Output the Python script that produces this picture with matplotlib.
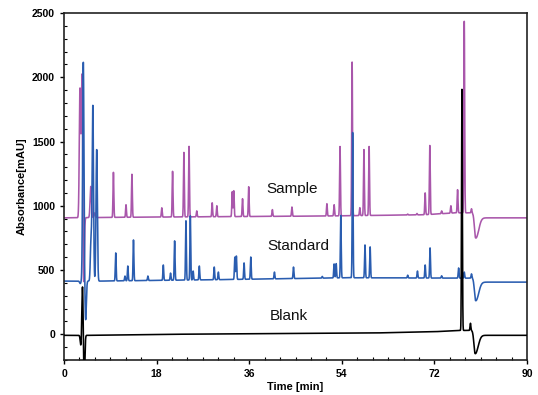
import numpy as np
import matplotlib
matplotlib.use('Agg')
import matplotlib.pyplot as plt
from matplotlib.ticker import MultipleLocator

# ---------------- data ----------------
# Sample trace: peak retention times [min] and apex absorbance [mAU]
sample_times = [3.1, 3.5, 3.8, 5.2, 6.0, 9.6, 12.05, 13.2, 19.0, 21.1, 23.3, 24.3,
                25.8, 28.8, 29.7, 32.7, 33.0, 34.7, 35.9, 40.5, 44.3, 51.1, 52.5,
                53.65, 56.0, 57.5, 58.3, 59.3, 66.8, 68.6, 70.2, 71.1, 73.4, 75.2,
                76.5, 77.8, 79.2]
sample_apex = [1906, 2050, 350, 1150, 945, 1260, 1008, 1245, 984, 1268, 1415, 1462,
               960, 1023, 1000, 1110, 1117, 1055, 1148, 970, 990, 1016, 1008,
               1461, 2118, 985, 1437, 1461, 935, 940, 1100, 1469, 960, 1000,
               1125, 2435, 977]
sample_base_t = [0, 10, 30, 50, 70, 76, 79.5, 80.6, 90]
sample_base_v = [906, 910, 915, 920, 930, 945, 945, 906, 906]
sample_dip = (80.0, 750)

# Standard trace
standard_times = [3.15, 3.75, 4.2, 5.25, 5.6, 6.35, 10.05, 11.85, 12.4, 13.5, 16.3,
                  19.3, 20.7, 21.5, 23.7, 24.55, 25.1, 26.3, 29.2, 30.0, 33.2, 33.5,
                  35.0, 36.3, 40.9, 44.6, 50.2, 52.5, 52.9, 53.8, 56.1, 58.5, 59.5,
                  66.8, 68.7, 70.2, 71.15, 73.4, 76.7, 77.8, 79.2]
standard_apex = [395, 2117, 110, 730, 1773, 1437, 633, 453, 531, 734, 453,
                 539, 476, 727, 883, 922, 492, 531, 523, 484, 600, 609,
                 555, 601, 484, 523, 450, 547, 550, 925, 1570, 695, 680,
                 460, 492, 539, 672, 455, 516, 484, 470]
standard_base_t = [0, 7, 30, 55, 76, 79.5, 80.6, 90]
standard_base_v = [414, 414, 425, 440, 437, 437, 406, 406]
standard_dip = (80.0, 262)

# Blank trace
blank_times = [3.3, 3.6, 3.9, 77.35, 79.0]
blank_apex = [-100, 400, -400, 1906, 86]
blank_base_t = [0, 5, 20, 40, 60, 72, 76.5, 79.3, 80.6, 90]
blank_base_v = [-8, -8, 0, 5, 10, 20, 30, 30, -8, -8]
blank_dip = (79.9, -150)

labels = ['Sample', 'Standard', 'Blank']
label_pos_t = [44.3, 45.5, 43.7]
label_pos_v = [1133, 688, 140]

x_ticks = [0, 18, 36, 54, 72, 90]
y_ticks = [0, 500, 1000, 1500, 2000, 2500]

# ---------------- build traces ----------------
t = np.linspace(0, 90, 18001)


def trace(times, apex, base_t, base_v, dip):
    base = np.interp(t, base_t, base_v)
    y = base.copy()
    for t0, a in zip(times, apex):
        h = a - np.interp(t0, base_t, base_v)
        s = 0.13 if t0 < 7 else 0.08
        y += h * np.exp(-0.5 * ((t - t0) / s) ** 2)
    d0, da = dip
    h = da - np.interp(d0, base_t, base_v)
    s = np.where(t < d0, 0.22, 0.55)
    y += h * np.exp(-0.5 * ((t - d0) / s) ** 2)
    return y


y_sample = trace(sample_times, sample_apex, sample_base_t, sample_base_v, sample_dip)
y_standard = trace(standard_times, standard_apex, standard_base_t, standard_base_v, standard_dip)
y_blank = trace(blank_times, blank_apex, blank_base_t, blank_base_v, blank_dip)

# ---------------- plot ----------------
plt.rcParams['font.family'] = ['Liberation Sans', 'DejaVu Sans']
fig = plt.figure(figsize=(5.38, 3.95), dpi=100)
ax = fig.add_axes([0.119, 0.0886, 0.8606, 0.8785])

ax.plot(t, y_blank, color='#000000', lw=1.15, zorder=3)
ax.plot(t, y_standard, color='#2a5db0', lw=1.15, zorder=2)
ax.plot(t, y_sample, color='#a957ab', lw=1.15, zorder=1)

for lab, lt, lv in zip(labels, label_pos_t, label_pos_v):
    ax.text(lt, lv, lab, ha='center', va='center', fontsize=11, color='#111111')

ax.set_xlim(0, 90)
ax.set_ylim(-200, 2500)
ax.set_xticks(x_ticks)
ax.set_yticks(y_ticks)
ax.xaxis.set_minor_locator(MultipleLocator(3))
ax.yaxis.set_minor_locator(MultipleLocator(100))
ax.tick_params(which='major', direction='out', length=3, width=1, labelsize=7.5)
ax.tick_params(which='minor', direction='in', length=2, width=0.8)
for lab in ax.get_xticklabels() + ax.get_yticklabels():
    lab.set_fontweight('bold')
for sp in ax.spines.values():
    sp.set_linewidth(1.2)
    sp.set_color('#222222')

ax.set_xlabel('Time [min]', fontsize=8, fontweight='bold', labelpad=2)
ax.set_ylabel('Absorbance[mAU]', fontsize=8, fontweight='bold', labelpad=4)

fig.savefig('out.png', dpi=100)
